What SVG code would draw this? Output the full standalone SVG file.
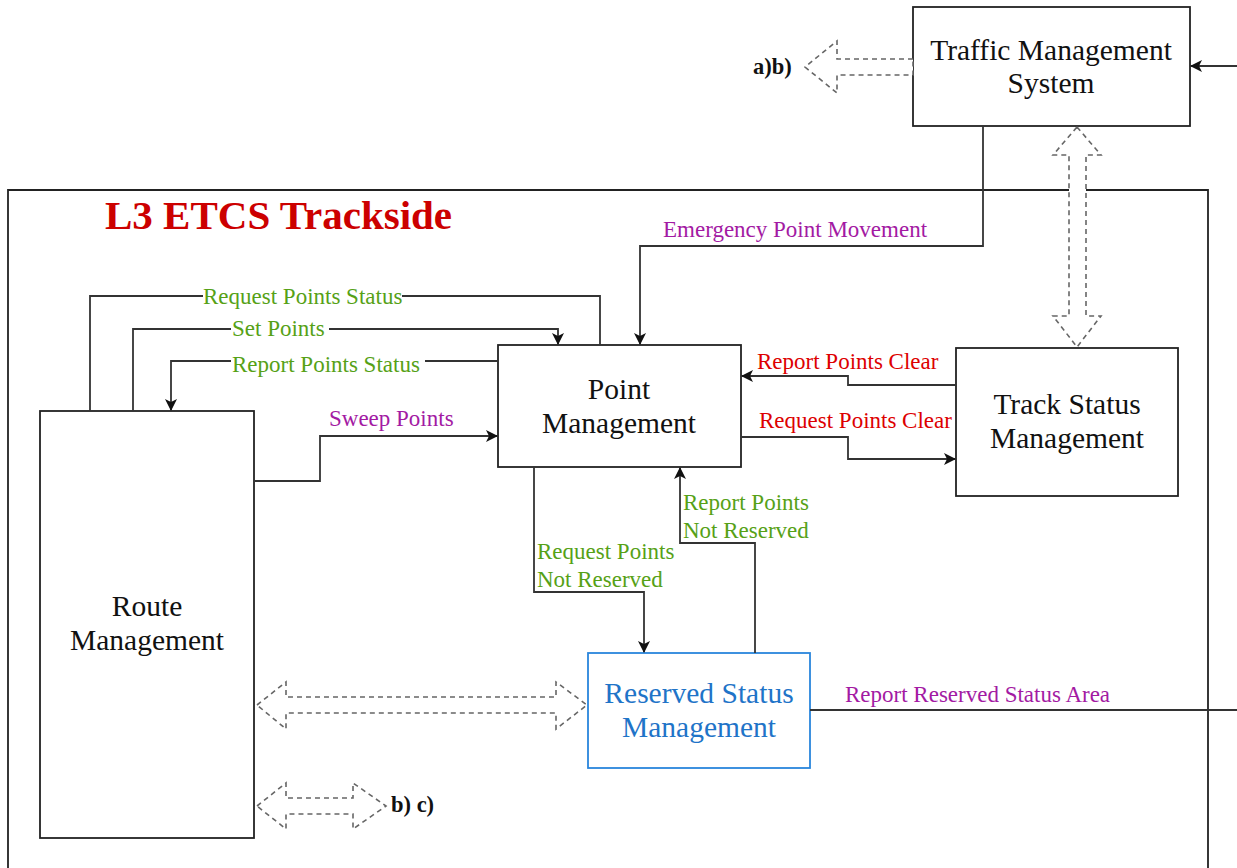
<svg xmlns="http://www.w3.org/2000/svg" width="1237" height="868" viewBox="0 0 1237 868">
<style>
text{font-family:"Liberation Serif","Times New Roman",serif}
.box{fill:#fff;stroke:#222;stroke-width:1.8}
.bt{font-size:29.5px;fill:#111;text-anchor:middle}
.ln{fill:none;stroke:#333;stroke-width:1.8}
.hol{fill:#fff;stroke:#666;stroke-width:1.6;stroke-dasharray:5 4}
.lb{font-size:23px}
.g{fill:#56A116}
.p{fill:#A31AA3}
.r{fill:#DD0000}
.bold{font-weight:bold;font-size:22.5px;fill:#111}
.bg{fill:#fff}
</style>
<defs>
<marker id="ar" viewBox="0 0 12 12" refX="11" refY="6" markerWidth="12" markerHeight="12" markerUnits="userSpaceOnUse" orient="auto">
<path d="M0,0 L12,6 L0,12 L3,6 z" fill="#111"/>
</marker>
</defs>

<g id="container">
<path d="M8,868 V190 H1208 V868" fill="none" stroke="#222" stroke-width="1.8"/>
<text x="105" y="229" font-size="41" font-weight="bold" fill="#CC0000">L3 ETCS Trackside</text>
</g>

<g id="tms">
<rect class="box" x="913" y="7" width="277" height="119"/>
<text class="bt" x="1051" y="60">Traffic Management</text>
<text class="bt" x="1051" y="93">System</text>
</g>

<g id="point-management">
<rect class="box" x="498" y="345" width="243" height="122"/>
<text class="bt" x="619" y="399">Point</text>
<text class="bt" x="619" y="433">Management</text>
</g>

<g id="track-status-management">
<rect class="box" x="956" y="348" width="222" height="148"/>
<text class="bt" x="1067" y="414">Track Status</text>
<text class="bt" x="1067" y="448">Management</text>
</g>

<g id="route-management">
<rect class="box" x="40" y="411" width="214" height="427"/>
<text class="bt" x="147" y="616">Route</text>
<text class="bt" x="147" y="650">Management</text>
</g>

<g id="reserved-status-management">
<rect x="588" y="653" width="222" height="115" fill="#fff" stroke="#2A86DC" stroke-width="1.8"/>
<text class="bt" x="699" y="703" style="fill:#1F74C8">Reserved Status</text>
<text class="bt" x="699" y="737" style="fill:#1F74C8">Management</text>
</g>

<g id="connectors">
<path class="ln" d="M1237,66 H1191" marker-end="url(#ar)"/>
<path class="ln" d="M983,126 V246 H640 V344" marker-end="url(#ar)"/>
<path class="ln" d="M90,411 V296 H600 V345"/>
<path class="ln" d="M133,411 V329 H558 V344" marker-end="url(#ar)"/>
<path class="ln" d="M498,361 H171 V410" marker-end="url(#ar)"/>
<path class="ln" d="M254,481 H320 V436 H497" marker-end="url(#ar)"/>
<path class="ln" d="M956,385 H848 V376 H742" marker-end="url(#ar)"/>
<path class="ln" d="M741,437 H848 V459 H955" marker-end="url(#ar)"/>
<path class="ln" d="M534,467 V592 H644 V652" marker-end="url(#ar)"/>
<path class="ln" d="M755,653 V543 H680 V468" marker-end="url(#ar)"/>
<path class="ln" d="M810,710 H1237"/>

<polygon class="hol" points="913,59 837,59 837,41 805,67 837,93 837,75 913,75"/>
<polygon class="hol" points="1077,127 1101,155 1086,155 1086,316 1101,316 1077,347 1053,316 1069,316 1069,155 1053,155"/>
<polygon class="hol" points="257,705 286,682 286,697 556,697 556,682 587,705 556,729 556,713 286,713 286,729"/>
<polygon class="hol" points="257,806 286,783 286,798 353,798 353,783 386,806 353,829 353,814 286,814 286,829"/>

<rect class="bg" x="203" y="288" width="199" height="16"/>
<rect class="bg" x="231" y="320" width="98" height="16"/>
<rect class="bg" x="231" y="353" width="194" height="16"/>

<text class="lb p" x="663" y="237">Emergency Point Movement</text>
<text class="lb g" x="203" y="304">Request Points Status</text>
<text class="lb g" x="232" y="336">Set Points</text>
<text class="lb g" x="232" y="372">Report Points Status</text>
<text class="lb p" x="329" y="426">Sweep Points</text>
<text class="lb r" x="757" y="369">Report Points Clear</text>
<text class="lb r" x="759" y="428">Request Points Clear</text>
<text class="lb g" x="683" y="510">Report Points</text>
<text class="lb g" x="683" y="538">Not Reserved</text>
<text class="lb g" x="537" y="559">Request Points</text>
<text class="lb g" x="537" y="587">Not Reserved</text>
<text class="lb p" x="845" y="702">Report Reserved Status Area</text>
<text class="bold" x="753" y="74">a)b)</text>
<text class="bold" x="391" y="812">b) c)</text>
</g>
</svg>
